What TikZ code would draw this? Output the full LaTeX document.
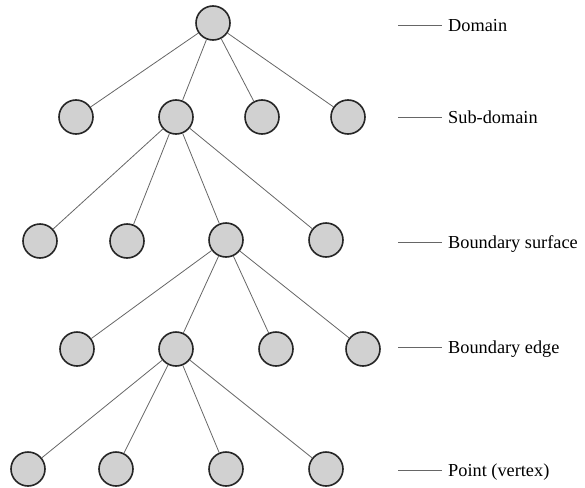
\documentclass[tikz,border=0pt]{standalone}
\usepackage{fontspec}
\setmainfont{Liberation Serif}

\begin{document}
\begin{tikzpicture}[x=1pt,y=-1pt,
  vtx/.style={circle,draw=black!85,line width=1.6pt,fill=black!18,minimum size=34pt,inner sep=0pt},
  lvl/.style={anchor=west,inner xsep=6pt,inner ysep=0pt,text height=12pt,text depth=0pt,
    font=\fontsize{18.3}{20}\selectfont}]
\useasboundingbox (0,0) rectangle (585,487);

\node[vtx] (d) at (213,23){};

\node[vtx] (s1) at (76,117){};
\node[vtx] (s2) at (176,117){};
\node[vtx] (s3) at (262,117){};
\node[vtx] (s4) at (348,117){};

\node[vtx] (b1) at (40,241){};
\node[vtx] (b2) at (127,241){};
\node[vtx] (b3) at (226,240){};
\node[vtx] (b4) at (326,240){};

\node[vtx] (e1) at (77,349){};
\node[vtx] (e2) at (176,349){};
\node[vtx] (e3) at (276,349){};
\node[vtx] (e4) at (363,349){};

\node[vtx] (p1) at (28,469){};
\node[vtx] (p2) at (116,469){};
\node[vtx] (p3) at (226,469){};
\node[vtx] (p4) at (326,469){};

\foreach \from/\to in {d/s1,d/s2,d/s3,d/s4,s2/b1,s2/b2,s2/b3,s2/b4,
  b3/e1,b3/e2,b3/e3,b3/e4,e2/p1,e2/p2,e2/p3,e2/p4}
  \draw[black!60,line width=0.8pt] (\from) -- (\to);

% level names on the right
\foreach \y/\name/\txt in {25/l1/Domain,117/l2/Sub-domain,242/l3/Boundary surface,
  347/l4/Boundary edge,470/l5/Point (vertex)}{
  \coordinate (\name s) at (398,\y);
  \node[lvl] (\name) at (442,\y){\txt};
  \draw[black!60,line width=0.8pt] (\name s) -- (\name.west);
}
\end{tikzpicture}
\end{document}
